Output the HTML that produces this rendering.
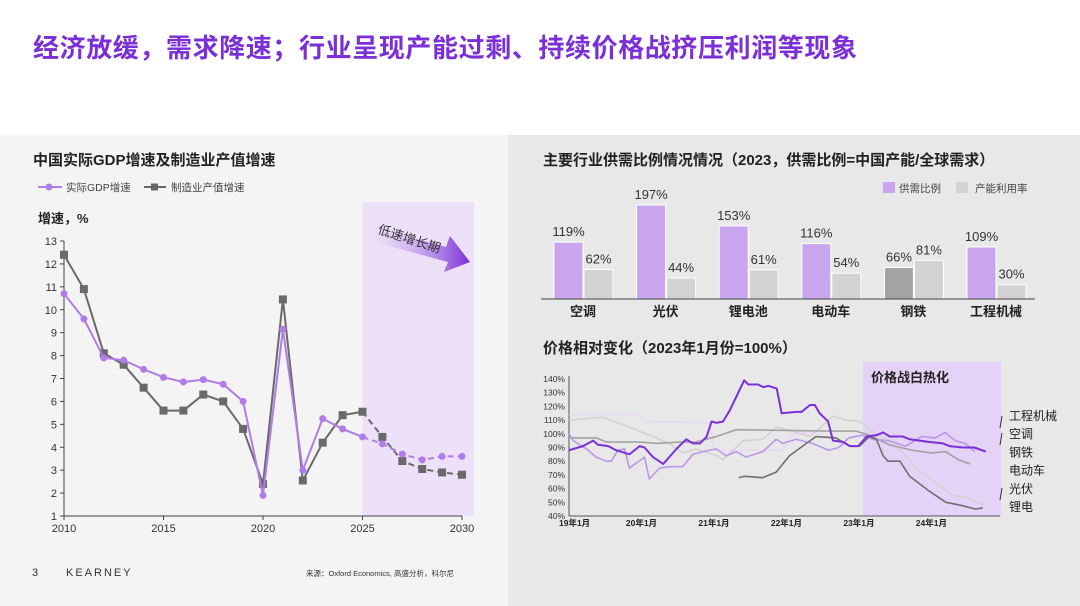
<!DOCTYPE html>
<html><head><meta charset="utf-8">
<style>
body{margin:0;width:1080px;height:606px;overflow:hidden;background:#fff;font-family:"Liberation Sans","Noto Sans CJK SC",sans-serif;position:relative}
.abs{position:absolute}
</style></head>
<body>
<div class="abs" style="left:33px;top:28px;font-size:26px;font-weight:bold;color:#7b2fd6;letter-spacing:0.6px;white-space:nowrap">经济放缓，需求降速；行业呈现产能过剩、持续价格战挤压利润等现象</div>
<div class="abs" style="left:0;top:135px;width:508px;height:471px;background:#f4f4f4"></div>
<div class="abs" style="left:508px;top:135px;width:572px;height:471px;background:#e8e8e8"></div>
<svg class="abs" style="left:0;top:0" width="1080" height="606" id="svg">
<defs><linearGradient id="ag" x1="0" x2="1"><stop offset="0" stop-color="#efe6fb" stop-opacity="0.3"/><stop offset="1" stop-color="#7b2fd6"/></linearGradient></defs>
</svg>
<script>
const NS='http://www.w3.org/2000/svg';
const svg=document.getElementById('svg');
function mk(t,a,txt,p){const e=document.createElementNS(NS,t);for(const k in a)e.setAttribute(k,a[k]);if(txt!=null)e.textContent=txt;(p||svg).appendChild(e);return e;}
const F='"Liberation Sans","Noto Sans CJK SC",sans-serif';

// ---- Left chart data
const years=[2010,2011,2012,2013,2014,2015,2016,2017,2018,2019,2020,2021,2022,2023,2024,2025,2026,2027,2028,2029,2030];
const gdp=[10.7,9.6,7.9,7.8,7.4,7.05,6.85,6.95,6.75,6.0,1.9,9.15,3.0,5.25,4.8,4.45,4.15,3.7,3.45,3.6,3.6];
const mfg=[12.4,10.9,8.1,7.6,6.6,5.6,5.6,6.3,6.0,4.8,2.4,10.45,2.55,4.2,5.4,5.55,4.45,3.4,3.05,2.9,2.8];
const yTicks=[1,2,3,4,5,6,7,8,9,10,11,12,13];
const xTicks=[2010,2015,2020,2025,2030];
const forecastStart=2025;
const lx=y=>64+(y-2010)*(462-64)/20, ly=v=>516-(v-1)*(516-241)/12;

mk('text',{x:33,y:165,'font-size':15,'font-weight':'bold',fill:'#222','font-family':F,},'中国实际GDP增速及制造业产值增速');
mk('line',{x1:38,y1:187,x2:62,y2:187,stroke:'#b07ce8','stroke-width':2,});
mk('circle',{cx:49,cy:187,r:3.5,fill:'#b07ce8',});
mk('text',{x:66,y:191,'font-size':10.5,fill:'#444','font-family':F,},'实际GDP增速');
mk('line',{x1:144,y1:187,x2:166,y2:187,stroke:'#666','stroke-width':2,});
mk('rect',{x:151,y:183.5,width:7,height:7,fill:'#666',});
mk('text',{x:171,y:191,'font-size':10.5,fill:'#444','font-family':F,},'制造业产值增速');
mk('text',{x:38,y:223,'font-size':13,'font-weight':'bold',fill:'#222','font-family':F,},'增速，%');
mk('rect',{x:lx(forecastStart),y:202,width:474-lx(forecastStart),height:314,fill:'#ece1f8',});
mk('polygon',{points:'366,225 446,247 450,236 470,262 444,272 448,262 366,240',fill:'url(#ag)',});
mk('text',{x:377,y:233,'font-size':13,fill:'#333','font-family':F,transform:'rotate(18 377 233)',},'低速增长期');
mk('line',{x1:64,y1:241,x2:64,y2:516,stroke:'#444',});
mk('line',{x1:64,y1:516,x2:462,y2:516,stroke:'#444',});
yTicks.forEach(t=>{mk('line',{x1:60,y1:ly(t),x2:64,y2:ly(t),stroke:'#444'});
 const e=mk('text',{x:57,y:ly(t)+4,'font-size':11,fill:'#333','text-anchor':'end','font-family':F},t);
 
 });
xTicks.forEach(t=>{mk('line',{x1:lx(t),y1:516,x2:lx(t),y2:520,stroke:'#444'});
 const e=mk('text',{x:lx(t),y:532,'font-size':11,fill:'#333','text-anchor':'middle','font-family':F},t);
 
 });
function series(vals,color,marker,name){
 const solid=[],dash=[];
 years.forEach((y,i)=>{const p=lx(y)+','+ly(vals[i]);if(y<=forecastStart)solid.push(p);if(y>=forecastStart)dash.push(p);});
 const a=mk('polyline',{points:solid.join(' '),fill:'none',stroke:color,'stroke-width':2});
 
 
 const b=mk('polyline',{points:dash.join(' '),fill:'none',stroke:color,'stroke-width':2,'stroke-dasharray':'6,4'});
 
 
 years.forEach((y,i)=>{let m;
  if(marker==='c')m=mk('circle',{cx:lx(y),cy:ly(vals[i]),r:3.5,fill:color});
  else m=mk('rect',{x:lx(y)-4,y:ly(vals[i])-4,width:8,height:8,fill:color});
  
  });
}
series(mfg,'#6a6a6a','s','mfg');
series(gdp,'#b07ce8','c','gdp');

// ---- Bar chart data
const industries=['空调','光伏','锂电池','电动车','钢铁','工程机械'];
const supplyRatio=[119,197,153,116,66,109];
const utilization=[62,44,61,54,81,30];
const bx0=554,bstep=82.6,bw=29,base=299,bs=94/197;
mk('text',{x:543,y:165,'font-size':15,'font-weight':'bold',fill:'#222','font-family':F,},'主要行业供需比例情况情况（2023，供需比例=中国产能/全球需求）');
mk('rect',{x:883,y:182,width:12,height:11,fill:'#c8a5ee',});
mk('text',{x:899,y:192,'font-size':10.5,fill:'#444','font-family':F,},'供需比例');
mk('rect',{x:956,y:182,width:12,height:11,fill:'#d3d3d3',});
mk('text',{x:975,y:192,'font-size':10.5,fill:'#444','font-family':F,},'产能利用率');
industries.forEach((n,i)=>{
 const x=bx0+i*bstep;
 const h1=supplyRatio[i]*bs,h2=utilization[i]*bs;
 const r1=mk('rect',{x:x,y:base-h1,width:bw,height:h1,fill:n==='钢铁'?'#a3a3a3':'#c8a5ee',stroke:'#fff','stroke-width':1});
 
 
 const r2=mk('rect',{x:x+bw+1,y:base-h2,width:bw,height:h2,fill:'#d3d3d3',stroke:'#fff','stroke-width':1});
 
 
 const t1=mk('text',{x:x+bw/2,y:base-h1-6,'font-size':13,fill:'#333','text-anchor':'middle','font-family':F},supplyRatio[i]+'%');
 
 
 const t2=mk('text',{x:x+bw*1.5+1,y:base-h2-6,'font-size':13,fill:'#333','text-anchor':'middle','font-family':F},utilization[i]+'%');
 
 
 const c=mk('text',{x:x+bw,y:316,'font-size':13,'font-weight':'bold',fill:'#222','text-anchor':'middle','font-family':F},n);
 
 
});
mk('line',{x1:541,y1:299,x2:1035,y2:299,stroke:'#444',});

// ---- Price chart data (month index from 2019-01)
const darkPurpleM=[0,2.3,4,4.8,6.5,7.8,10,11.7,12.5,13.9,15.6,17.8,19.4,20.5,21.7,22.8,23.6,24.4,25.5,26.6,29,29.7,31.3,32.2,33,34.4,35.2,37.7,38.5,39.9,40.7,41.5,42.9,43.7,45.4,46.5,47.9,49.3,50.9,52,53.1,55.3,56.4,58,59.7,61.9,63,65.2,67.1,69];
const darkPurpleV=[88,91,95,92,91,88,85,91,90,83,78,89,96,93,93,98,109,108,109,117,139,136,136,134,135,133,115,116,116,121,121,115,109,95,94,91,91,98,99,101,98,98,96,95,94,93,91,90,90,87];
const lavM=[0,0.7,2.9,4.5,6.2,7,8.1,9.2,10,12.5,13.3,15,16.6,18.8,20.5,22.2,24.4,26,27.7,29.3,32.1,34.3,35.4,37.6,40.3,43,44.7,46.3,48.6,50.2,52.9,55.7,58.4,60.6,62.3,63.9,65.6,67.2];
const lavV=[100,95,89,83,80,80,88,89,75,83,67,75,76,76,85,87,89,84,87,83,87,96,93,96,93,88,90,97,99,96,95,91,98,97,101,95,93,87];
const paleM=[0,11.7,12.5,23.3,24.1,35.4,36.6,39.9,42];
const paleV=[114,114,109,108,88,88,99,101,100];
const lightGrayM=[0,5.6,10,13.3,16.6,18.8,21,24.4,25.5,28.8,32.1,34.3,37.6,39.9,41.5,43.7,45.9,48.1,50.9,53.1,55.3,58,60.8,63.5,65.7,67.3,68.9];
const lightGrayV=[110,112,105,99,93,86,89,84,81,95,96,105,101,98,104,113,110,109,100,95,86,73,64,55,54,50,48];
const midGrayM=[0,4.5,6.2,11.7,14.5,18.3,21,24.4,27.7,43,47.5,49.7,53,56.8,60.1,62.3,64.5,66.4];
const midGrayV=[97,97,94,94,93,94,94,98,103,102,102,99,92,88,86,87,81,78];
const darkGrayM=[28.1,29.1,32.1,34.3,36.5,39.3,40.9,44.2,46.5,48.1,49.7,50.9,52,52.8,54.8,56.4,59.7,62.4,64.7,67.3,68.5];
const darkGrayV=[68,69,68,72,84,93,98,97,91,91,98,96,84,80,80,69,58,50,48,45,46];
const pTicks=[40,50,60,70,80,90,100,110,120,130,140];
const pXLabels=['19年1月','20年1月','21年1月','22年1月','23年1月','24年1月'];
const seriesNames=['工程机械','空调','钢铁','电动车','光伏','锂电'];
const px=m=>569+m*6.04, py=v=>516-(v-40)*1.37;

mk('text',{x:543,y:353,'font-size':15,'font-weight':'bold',fill:'#222','font-family':F,},'价格相对变化（2023年1月份=100%）');
mk('rect',{x:863,y:362,width:138,height:154,fill:'#e4d2f7',});
mk('text',{x:871,y:382,'font-size':13,'font-weight':'bold',fill:'#222','font-family':F,},'价格战白热化');
mk('line',{x1:569,y1:376,x2:569,y2:516,stroke:'#555',});
mk('line',{x1:569,y1:516,x2:1000,y2:516,stroke:'#555',});
pTicks.forEach(t=>{const e=mk('text',{x:565,y:py(t)+3,'font-size':8.5,fill:'#333','text-anchor':'end','font-family':F},t+'%');
 
 });
pXLabels.forEach((l,i)=>{const e=mk('text',{x:px(i*12)+(i===0?-10:0),y:526,'font-size':8.5,'font-weight':'bold',fill:'#222','text-anchor':i===0?'start':'middle','font-family':F},l);
 
 });
function pline(M,V,color,w,name){const e=mk('polyline',{points:M.map((m,i)=>px(m)+','+py(V[i])).join(' '),fill:'none',stroke:color,'stroke-width':w,'stroke-linejoin':'round'});
 
 }
pline(paleM,paleV,'#e6d8f6',1.6,'line-pale-lavender');
pline(lightGrayM,lightGrayV,'#d2d2d2',1.6,'line-light-gray');
pline(midGrayM,midGrayV,'#a2a2a2',1.6,'line-mid-gray');
pline(lavM,lavV,'#bb97e8',1.6,'line-lavender');
pline(darkGrayM,darkGrayV,'#707070',1.6,'line-dark-gray');
pline(darkPurpleM,darkPurpleV,'#7b2fd6',2,'line-dark-purple');
seriesNames.forEach((n,i)=>{const e=mk('text',{x:1009,y:420+i*18.2,'font-size':12,fill:'#222','font-family':F},n);
 
 });
mk('line',{x1:1000,y1:428,x2:1002,y2:416,stroke:'#333',});
mk('line',{x1:1000,y1:445,x2:1002,y2:433,stroke:'#333',});
mk('line',{x1:1000,y1:500,x2:1002,y2:488,stroke:'#333',});

mk('text',{x:32,y:576,'font-size':11,fill:'#333','font-family':F,},'3');
mk('text',{x:66,y:576,'font-size':11,fill:'#333','letter-spacing':'2','font-family':F,},'KEARNEY');
mk('text',{x:306,y:576,'font-size':7.5,fill:'#333','font-family':F,},'来源：Oxford Economics, 高盛分析，科尔尼');
</script>
</body></html>
